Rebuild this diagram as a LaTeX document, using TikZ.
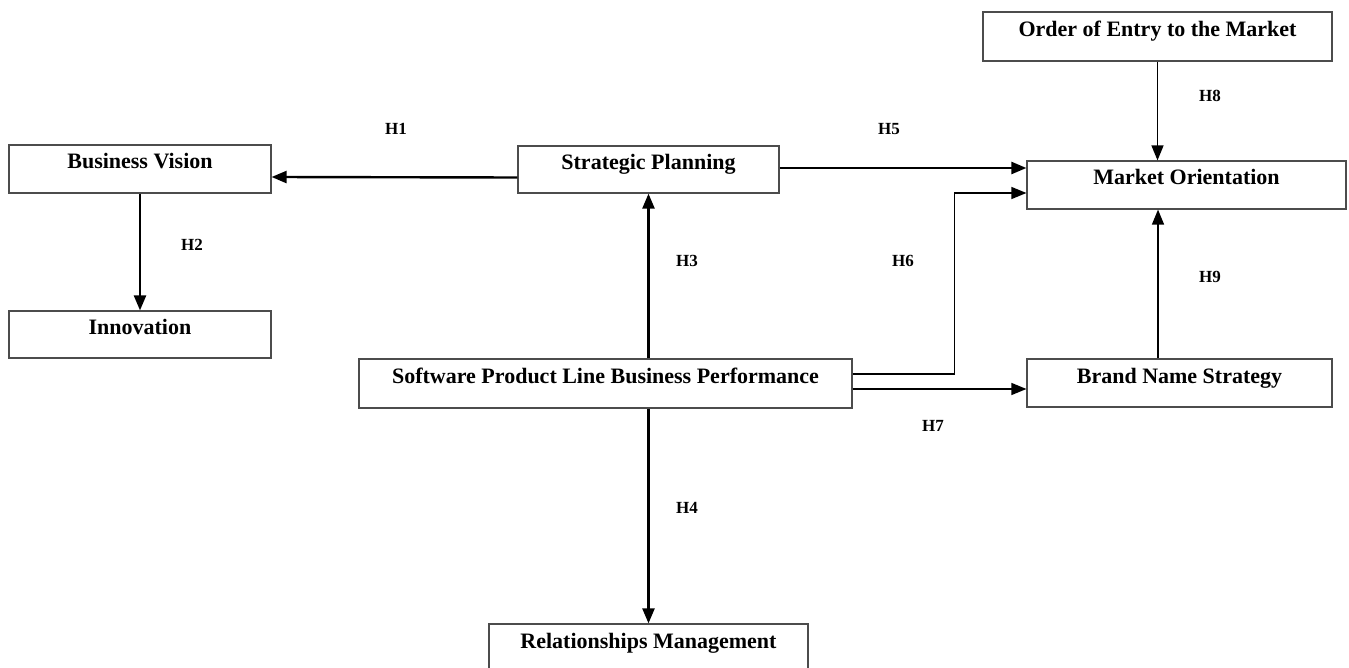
\documentclass[tikz,border=0pt]{standalone}
\usepackage{fontspec}
\setmainfont{Liberation Serif}
\usetikzlibrary{arrows.meta}

\begin{document}
\begin{tikzpicture}[x=1pt,y=-1pt,>={Triangle[length=15pt,width=12pt]},
  box node/.style={draw=black!70,line width=1.2pt,minimum height=48pt,inner sep=0pt,
    text height=9pt,text depth=9pt,font=\fontsize{22}{24}\selectfont\bfseries},
  hyp node/.style={inner sep=0pt,font=\fontsize{17}{19}\selectfont\bfseries},
  strong line/.style={->,line width=2.4pt},
  weak line/.style={->,line width=1.4pt}]
  \useasboundingbox (0,0) rectangle (1349,668);

  % boxes
  \node[box node, minimum width=262pt] (bv) at (140,169) {Business Vision};
  \node[box node, minimum width=262pt, minimum height=47pt] (inn) at (140,334.5) {Innovation};
  \node[box node, minimum width=261pt, minimum height=47pt] (sp) at (648.5,169.5) {Strategic Planning};
  \node[box node, minimum width=349pt, minimum height=49pt] (oem) at (1157.5,36.5) {Order of Entry to the Market};
  \node[box node, minimum width=319pt] (mo) at (1186.5,185) {Market Orientation};
  \node[box node, minimum width=493pt, minimum height=49pt] (spl) at (605.5,383.5) {Software Product Line Business Performance};
  \node[box node, minimum width=305pt] (bns) at (1179.5,383) {Brand Name Strategy};
  \node[box node, minimum width=319pt] (rm) at (648.5,648) {Relationships Management};

  % hypotheses
  \node[hyp node] (h1) at (396,129) {H1};
  \node[hyp node] (h2) at (192,245) {H2};
  \node[hyp node] (h3) at (687,261) {H3};
  \node[hyp node] (h4) at (687,508) {H4};
  \node[hyp node] (h5) at (889,129) {H5};
  \node[hyp node] (h6) at (903,261) {H6};
  \node[hyp node] (h7) at (933,426) {H7};
  \node[hyp node] (h8) at (1210,96) {H8};
  \node[hyp node] (h9) at (1210,277) {H9};

  % arrows
  \draw[strong line] ([yshift=-8pt]sp.west) -- ([yshift=-8pt]bv.east);
  \draw[strong line] (bv.south) -- (inn.north);
  \draw[strong line] (sp.south |- spl.north) -- (sp.south);
  \draw[strong line] (rm.north |- spl.south) -- (rm.north);
  \draw[strong line] ([yshift=1.5pt]sp.east) -- ([yshift=1.5pt]sp.east -| mo.west);
  \draw[weak line] ([yshift=9.5pt]spl.east) -- ++(102,0) |- ([yshift=-8pt]mo.west);
  \draw[weak line] ([yshift=-5.5pt]spl.east) -- ([yshift=-5.5pt]spl.east -| bns.west);
  \draw[weak line] (oem.south) -- (oem.south |- mo.north);
  \draw[weak line] ([xshift=-21.5pt]bns.north) -- ([xshift=-21.5pt]bns.north |- mo.south);
\end{tikzpicture}
\end{document}
